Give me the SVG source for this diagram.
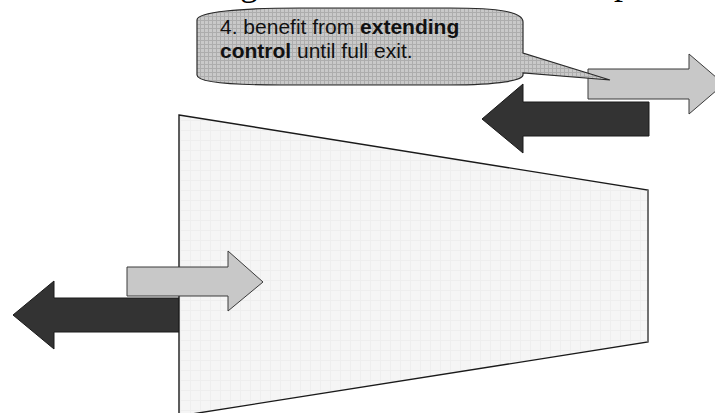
<svg xmlns="http://www.w3.org/2000/svg" width="715" height="413" viewBox="0 0 715 413">
  <style>
    .title { font-family: "Liberation Serif", "Times New Roman", serif; font-size: 36px; fill: #000; }
    .note { font-family: "Liberation Sans", Arial, sans-serif; font-size: 21px; fill: #111; }
    .note .b { font-weight: bold; }
    .light { fill: #c8c8c8; stroke: #3a3a3a; stroke-width: 1; }
    .dark { fill: #333333; stroke: #1a1a1a; stroke-width: 1; }
  </style>
  <defs>
    <!-- fine grid texture of the speech bubble -->
    <pattern id="gridGray" width="4" height="4" patternUnits="userSpaceOnUse">
      <rect width="4" height="4" fill="#c9c9c9"/>
      <path d="M0 0.5H4M0.5 0V4" stroke="#adadad" stroke-width="1"/>
    </pattern>
    <!-- faint grid texture of the funnel -->
    <pattern id="gridLight" width="10" height="10" patternUnits="userSpaceOnUse">
      <rect width="10" height="10" fill="#f5f5f5"/>
      <path d="M0 0.5H10M0.5 0V10" stroke="#eeeeee" stroke-width="1"/>
    </pattern>
  </defs>

  <rect width="715" height="413" fill="#ffffff"/>

  <!-- descenders of the heading, clipped at the top edge -->
  <g id="heading">
    <text class="title" x="240" y="-5">g</text>
    <text class="title" x="614" y="-6">p</text>
  </g>

  <!-- outgoing dark arrow, lower left (sits behind the funnel) -->
  <g id="arrow-out-left">
    <polygon class="dark" points="180,298 54,298 54,281 13,315 54,349 54,332 180,332"/>
  </g>

  <!-- funnel body -->
  <g id="funnel">
    <polygon points="179,115 648,190 648,342 179,416" fill="url(#gridLight)" stroke="#1a1a1a" stroke-width="1.4"/>
    <line x1="648" y1="190" x2="648" y2="342" stroke="#777" stroke-width="1.6"/>
  </g>

  <g id="connectors">
    <!-- incoming light arrow, lower left -->
    <polygon class="light" points="127,267 228,267 228,251 263,282 228,311 228,296 127,296"/>
    <!-- exit pair, upper right -->
    <polygon class="light" points="588,69 689,69 689,54 724,84 689,114 689,99 588,99"/>
    <polygon class="dark" points="649,102 523,102 523,84 482,119 523,153 523,136 649,136"/>
  </g>

  <!-- speech bubble with its pointer -->
  <g id="callout">
    <path d="M197,20 C197,12 240,8 300,8 L450,8 C500,8 523,12 523,22 L523,53 L610,80 L523,73 L523,75 C523,80 500,85 450,85 L280,85 C230,85 197,82 197,75 Z"
          fill="url(#gridGray)" stroke="#2a2a2a" stroke-width="1.2"/>
    <text class="note" x="220" y="34">4. benefit from <tspan class="b">extending</tspan></text>
    <text class="note" x="220" y="58"><tspan class="b">control</tspan> until full exit.</text>
  </g>
</svg>
